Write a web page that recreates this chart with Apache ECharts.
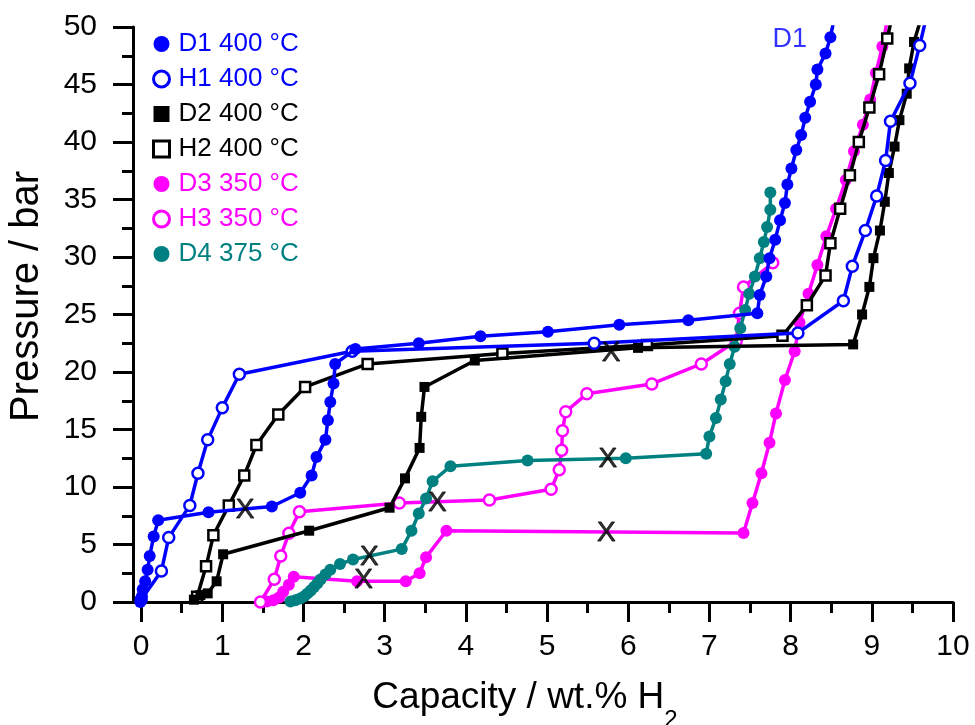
<!DOCTYPE html>
<html><head><meta charset="utf-8">
<script src="https://cdn.jsdelivr.net/npm/echarts@6/dist/echarts.min.js"></script>
<style>html,body{margin:0;padding:0;background:#fff}#c{width:975px;height:725px}</style>
</head><body><div id="c"></div><script>
// ---- data (capacity wt.% H2, pressure bar) ----
const D1 = [[8.53,50.5],[8.49,49.1],[8.43,47.7],[8.33,46.3],[8.31,45.0],[8.24,43.5],[8.18,42.1],[8.13,40.6],[8.07,39.3],[8.01,37.7],[7.96,36.3],[7.93,34.7],[7.87,33.2],[7.81,31.5],[7.74,29.9],[7.70,28.3],[7.62,26.7],[7.59,25.1],[6.74,24.5],[5.89,24.1],[5.01,23.5],[4.18,23.1],[3.42,22.5],[2.64,22.0],[2.39,20.7],[2.37,19.0],[2.33,17.4],[2.30,15.8],[2.27,14.1],[2.16,12.6],[2.10,11.0],[1.96,9.5],[1.61,8.3],[0.83,7.8],[0.21,7.1],[0.155,5.7],[0.106,4.0],[0.08,2.8],[0.05,1.8],[0.02,1.1],[0.01,0.5],[-0.01,0.0]];
const H1 = [[0.0,0.2],[0.25,2.7],[0.34,5.6],[0.60,8.4],[0.70,11.2],[0.82,14.1],[1.0,16.9],[1.21,19.8],[2.60,21.8],[5.58,22.5],[8.09,23.4],[8.65,26.2],[8.76,29.2],[8.92,32.3],[9.06,35.3],[9.17,38.4],[9.23,41.8],[9.47,45.1],[9.59,48.4],[9.67,50.8]];
const D2 = [[0.65,0.2],[0.73,0.6],[0.82,0.75],[0.93,1.8],[1.01,4.15],[2.07,6.2],[3.06,8.2],[3.25,10.75],[3.43,13.4],[3.45,16.1],[3.49,18.7],[4.11,21.0],[6.12,22.1],[8.77,22.4],[8.88,25.0],[8.97,27.4],[9.02,29.9],[9.10,32.3],[9.16,34.8],[9.21,37.3],[9.28,39.6],[9.34,41.9],[9.43,44.2],[9.46,46.4],[9.52,48.7],[9.60,50.6]];
const H2 = [[0.69,0.46],[0.80,3.1],[0.89,5.8],[1.08,8.4],[1.27,11.0],[1.42,13.65],[1.69,16.3],[2.02,18.7],[2.79,20.7],[4.45,21.6],[6.23,22.35],[7.90,23.15],[8.20,25.8],[8.43,28.4],[8.49,31.2],[8.61,34.2],[8.73,37.1],[8.84,40.0],[8.97,43.0],[9.09,45.9],[9.19,49.0],[9.24,50.6]];
const D3 = [[1.47,0.0],[1.55,0.05],[1.63,0.15],[1.70,0.4],[1.75,0.9],[1.82,1.5],[1.88,2.2],[2.66,1.8],[3.26,1.8],[3.43,2.5],[3.51,3.9],[3.76,6.2],[7.42,6.0],[7.53,8.6],[7.64,11.2],[7.74,13.85],[7.82,16.4],[7.93,19.3],[8.05,21.8],[8.11,24.3],[8.22,26.8],[8.33,29.3],[8.44,31.8],[8.56,34.2],[8.68,36.7],[8.78,39.2],[8.89,41.5],[8.98,43.7],[9.05,46.0],[9.13,48.3],[9.19,50.6]];
const H3 = [[1.47,0.0],[1.64,1.97],[1.72,4.0],[1.82,5.97],[1.95,7.85],[3.18,8.6],[4.29,8.87],[5.05,9.8],[5.15,11.5],[5.18,13.2],[5.19,14.9],[5.23,16.55],[5.49,18.1],[6.29,18.96],[6.90,20.7],[7.33,22.7],[7.37,25.1],[7.42,27.4],[7.78,29.5]];
const D4 = [[1.84,0.05],[1.90,0.15],[1.96,0.3],[2.01,0.5],[2.05,0.75],[2.09,1.0],[2.13,1.3],[2.17,1.6],[2.21,1.95],[2.27,2.4],[2.33,2.8],[2.45,3.3],[2.61,3.7],[3.21,4.6],[3.33,6.2],[3.42,7.7],[3.51,9.0],[3.59,10.5],[3.81,11.8],[4.76,12.3],[5.97,12.5],[6.96,12.9],[7.00,14.4],[7.08,16.0],[7.14,17.6],[7.20,19.2],[7.25,20.7],[7.31,22.2],[7.38,23.8],[7.44,25.4],[7.49,26.8],[7.56,28.3],[7.62,29.9],[7.67,31.3],[7.71,32.6],[7.75,34.1],[7.75,35.6]];
const crossMarks = [[1.28,8.0],[2.74,1.9],[2.81,3.9],[3.65,8.6],[5.75,12.4],[5.73,6.0],[5.79,21.6]];
const curveLabels = [{text:'D1', value:[7.99,48.9]}];
const xTicks = [0,1,2,3,4,5,6,7,8,9,10];
const xMinorTicks = [0.5,1.5,2.5,3.5,4.5,5.5,6.5,7.5,8.5,9.5];
const legendNames = ['D1 400 °C','H1 400 °C','D2 400 °C','H2 400 °C','D3 350 °C','H3 350 °C','D4 375 °C'];

const BLUE='#0000ff', BLACK='#000000', MAG='#ff00ff', TEAL='#008080';
const FF = '"Liberation Sans", Arial, sans-serif';

function mk(name, data, color, symbol, size, filled, z){
  return {
    name, type:'line', data, symbol, symbolSize:size, showSymbol:true, z,
    lineStyle:{color, width:3.5},
    itemStyle: filled ? {color} : {color:'#ffffff', borderColor:color, borderWidth:2.5},
    emphasis:{disabled:true}, animation:false, clip:true
  };
}
function leg(name, color, icon, filled){
  return {name, icon,
    itemStyle: filled ? {color, borderWidth:0} : {color:'#ffffff', borderColor:color, borderWidth:3},
    textStyle:{color}};
}

const chart = echarts.init(document.getElementById('c'), null, {renderer:'canvas'});
chart.setOption({
  animation:false,
  backgroundColor:'#ffffff',
  textStyle:{fontFamily:FF},
  grid:{left:133, right:22, top:27, bottom:123, containLabel:false, outerBoundsMode:'none'},
  legend:{
    orient:'vertical', left:147, top:26, itemWidth:16, itemHeight:16, itemGap:9,
    textStyle:{fontSize:26, fontFamily:FF, padding:[0,0,0,4], lineHeight:26},
    selectedMode:false,
    data:[
      leg(legendNames[0], BLUE, 'circle', true),
      leg(legendNames[1], BLUE, 'circle', false),
      leg(legendNames[2], BLACK, 'rect', true),
      leg(legendNames[3], BLACK, 'rect', false),
      leg(legendNames[4], MAG, 'circle', true),
      leg(legendNames[5], MAG, 'circle', false),
      leg(legendNames[6], TEAL, 'circle', true)
    ]
  },
  xAxis:[{
    type:'value', min:-0.1, max:10, position:'bottom',
    name:'{a|Capacity / wt.% H}{b|2}', nameLocation:'middle', nameGap:77,
    nameTextStyle:{color:'#000', padding:[0,36,0,0], rich:{
      a:{fontSize:37, fontFamily:FF, color:'#000', lineHeight:40, verticalAlign:'top'},
      b:{fontSize:24, fontFamily:FF, color:'#000', lineHeight:82, verticalAlign:'middle'}
    }},
    axisLine:{show:true, onZero:false, lineStyle:{color:'#000', width:3}},
    axisTick:{show:true, inside:false, length:20, customValues:xTicks, lineStyle:{color:'#000', width:3}},
    axisLabel:{show:true, customValues:xTicks, fontSize:30, color:'#000', fontFamily:FF, margin:30},
    splitLine:{show:false}
  },{
    type:'value', min:-0.1, max:10, position:'bottom',
    axisLine:{show:false},
    axisTick:{show:true, inside:false, length:11, customValues:xMinorTicks, lineStyle:{color:'#000', width:3}},
    axisLabel:{show:false},
    splitLine:{show:false}
  }],
  yAxis:{
    type:'value', min:0, max:50, interval:5,
    name:'Pressure / bar', nameLocation:'middle', nameGap:86,
    nameTextStyle:{fontSize:40, color:'#000', fontFamily:FF, padding:[0,0,0,36]},
    axisLine:{show:true, onZero:false, lineStyle:{color:'#000', width:3}},
    axisTick:{show:true, inside:false, length:20, lineStyle:{color:'#000', width:3}},
    minorTick:{show:true, splitNumber:2, length:11, lineStyle:{color:'#000', width:3}},
    axisLabel:{fontSize:30, color:'#000', fontFamily:FF, margin:36},
    splitLine:{show:false}, minorSplitLine:{show:false}
  },
  series:[
    mk(legendNames[4], D3, MAG, 'circle', 12, true, 2),
    mk(legendNames[5], H3, MAG, 'circle', 11, false, 3),
    mk(legendNames[6], D4, TEAL, 'circle', 12, true, 4),
    mk(legendNames[3], H2, BLACK, 'rect', 10, false, 5),
    mk(legendNames[2], D2, BLACK, 'rect', 10, true, 6),
    mk(legendNames[1], H1, BLUE, 'circle', 11, false, 7),
    mk(legendNames[0], D1, BLUE, 'circle', 12, true, 8),
    {type:'scatter', name:'marks', data:crossMarks, symbolSize:0, z:20, animation:false,
     label:{show:true, position:'inside', formatter:'X', fontSize:28, color:'#000', fontFamily:FF, textBorderColor:'#000', textBorderWidth:0.8}},
    {type:'scatter', name:'curveLabels', data:curveLabels.map(d=>({name:d.text, value:d.value})), symbolSize:0, z:20, animation:false,
     label:{show:true, position:'inside', formatter:'{b}', fontSize:27, color:BLUE, fontFamily:FF}}
  ]
});
</script></body></html>
